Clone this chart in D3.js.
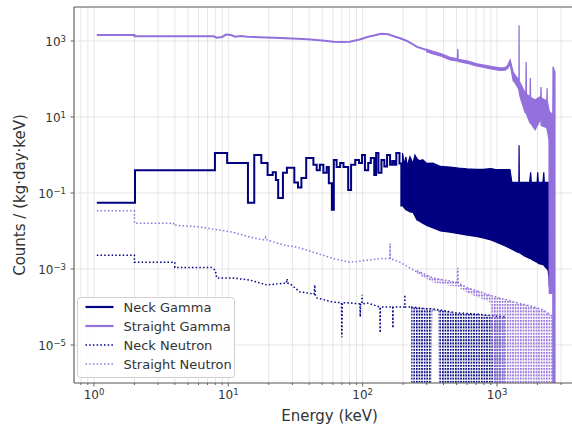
<!DOCTYPE html>
<html>
<head>
<meta charset="utf-8">
<script src="https://cdn.jsdelivr.net/npm/d3@7"></script>
<style>
  html, body { margin: 0; padding: 0; background: #fff; }
  svg { display: block; font-family: "DejaVu Sans", sans-serif; }
</style>
</head>
<body>
<svg id="chart" width="572" height="427"></svg>
<script>
// ---------------- data ----------------
const seriesNames = ["Neck Gamma", "Straight Gamma", "Neck Neutron", "Straight Neutron"];

const xTickValues = [1, 10, 100, 1000];
const xTickExponents = ["0", "1", "2", "3"];
const yTickValues = [1e3, 1e1, 1e-1, 1e-3, 1e-5];
const yTickExponents = ["3", "1", "\u22121", "\u22123", "\u22125"];

// Neck gamma, low-energy histogram: bin lower edges (keV) and rates
const neckGammaE = [1.05, 2.02, 7.95, 9.8, 14.0, 15.6, 17.6, 19.6, 21.4, 22.6,
  23.5, 25.5, 27.3, 31.0, 33.0, 35.0, 38.0, 43.0, 45.5, 48,
  51, 54, 56, 59, 61, 64, 68, 72, 78, 82,
  88, 94, 99, 104, 110, 115, 122, 126, 131, 138,
  145, 152, 160, 166, 172, 178, 188, 194, 198];
const neckGammaV = [0.055, 0.40, 1.13, 0.62, 0.055, 1.0, 0.62, 0.30, 0.35, 0.22,
  0.074, 0.34, 0.46, 0.19, 0.14, 0.25, 0.83, 0.55, 0.40, 0.55,
  0.34, 0.48, 0.18, 0.036, 0.74, 0.48, 0.62, 0.48, 0.12, 0.55,
  0.74, 0.62, 1.0, 0.40, 0.62, 0.83, 0.30, 1.13, 0.34, 0.74,
  0.50, 1.0, 0.55, 0.70, 0.55, 1.13, 0.60, 0.047, 0.047];

// Neck gamma, high-energy region: upper / lower envelope of the bin-to-bin scatter
const neckGammaBandE = [198, 205, 210, 214, 225, 237, 245, 254, 265, 280,
  300, 334, 380, 447, 520, 600, 700, 788, 900, 1000,
  1110, 1250, 1290, 1410, 1455, 1460, 1466, 1600, 1750, 1780,
  1800, 1990, 2010, 2030, 2200, 2230, 2250, 2400, 2440, 2452];
const neckGammaBandHi = [1.13, 0.55, 0.9, 0.5, 0.9, 0.6, 1.0, 0.8, 0.7, 0.75,
  0.6, 0.61, 0.5, 0.48, 0.45, 0.43, 0.42, 0.42, 0.44, 0.41,
  0.41, 0.41, 0.19, 0.19, 0.19, 1.8, 0.19, 0.19, 0.19, 0.35,
  0.19, 0.19, 0.35, 0.19, 0.19, 0.35, 0.19, 0.19, 0.19, 0.19];
const neckGammaBandLo = [0.047, 0.04, 0.036, 0.035, 0.032, 0.031, 0.025, 0.0195, 0.018, 0.016,
  0.014, 0.012, 0.010, 0.0093, 0.0085, 0.0078, 0.0072, 0.0066, 0.0058, 0.005,
  0.0043, 0.0035, 0.0033, 0.0028, 0.0027, 0.0027, 0.0027, 0.0022, 0.0019, 0.0019,
  0.0018, 0.0015, 0.0015, 0.0014, 0.0013, 0.0013, 0.0012, 0.00093, 0.0006, 0.00034];

// Straight gamma, continuum up to 300 keV
const straightGammaE = [1.05, 2.0, 2.0, 7.8, 8.2, 9.0, 9.6, 10.5, 11.2, 12.4,
  13.8, 17, 22, 30, 38.6, 50, 61, 70, 80, 95,
  110, 121, 137, 155, 175, 190, 214, 254, 300];
const straightGammaV = [1440, 1440, 1330, 1330, 1220, 1280, 1480, 1440, 1300, 1350,
  1300, 1260, 1220, 1160, 1110, 1030, 960, 940, 960, 1100,
  1300, 1400, 1550, 1500, 1300, 1180, 1000, 700, 580];

// Straight gamma above 300 keV: upper / lower envelope, lines included
const straightGammaBandE = [300, 334, 385, 447, 500, 508, 511, 514, 600, 700,
  785, 900, 1050, 1150, 1200, 1253, 1320, 1364, 1450, 1457,
  1460, 1463, 1487, 1620, 1640, 1648, 1656, 1763, 1770, 1778,
  1921, 2095, 2117, 2125, 2133, 2280, 2352, 2360, 2368, 2440,
  2450, 2560, 2605, 2614, 2700];
const straightGammaBandHi = [600, 530, 460, 370, 345, 345, 620, 330, 300, 255,
  235, 215, 195, 200, 225, 316, 150, 127, 95, 90,
  2600, 85, 79, 43, 43, 280, 40, 34, 107, 33,
  28, 34, 33, 62, 32, 28, 27, 57, 26, 15,
  14, 12, 10, 210, 150];
const straightGammaBandLo = [520, 460, 400, 320, 300, 300, 300, 290, 260, 222,
  205, 185, 170, 172, 190, 250, 90, 79, 55, 50,
  50, 45, 34, 13, 13, 13, 12, 7, 7, 7,
  4.6, 8.3, 8, 8, 6, 5.5, 5, 5, 4.5, 2.5,
  2.3e-4, 2.3e-4, 2.3e-4, 0, 0];

// Neck neutron, up to 230 keV
const neckNeutronE = [1.05, 2.0, 2.0, 4.0, 4.0, 7.5, 8.0, 8.2, 10.8, 14.5,
  19.4, 25.6, 27.0, 27.4, 27.8, 29, 34, 43.5, 44, 44.5,
  45.5, 60, 69.5, 70, 70.5, 80, 95.5, 96, 96.5, 98.5,
  99, 99.5, 108, 134.5, 135, 135.5, 142, 167.5, 168, 168.5,
  190, 205.5, 206, 206.5, 230];
const neckNeutronV = [0.0023, 0.0023, 0.0015, 0.0015, 0.0011, 0.0011, 0.00093, 0.00058, 0.00058, 0.00051,
  0.00038, 0.00042, 0.00042, 0.00055, 0.00042, 0.0004, 0.00025, 0.00022, 0.00038, 0.00020,
  0.000174, 0.000135, 0.00013, 1.6e-5, 0.00013, 0.000128, 0.00012, 5.5e-5, 0.00012, 0.00012,
  0.00021, 0.00012, 0.000128, 0.0001, 2.1e-5, 0.0001, 0.0001, 0.0001, 2.8e-5, 0.0001,
  0.0001, 0.0001, 0.00021, 0.0001, 0.0001];

// Neck neutron above 230 keV: most bins empty (0)
const neckNeutronBandE = [230, 300, 325, 330, 365, 370, 400, 500, 700, 900, 1140, 1145];
const neckNeutronBandHi = [1e-4, 9e-5, 9e-5, 9e-5, 8.5e-5, 8.5e-5, 8e-5, 7e-5, 6.5e-5, 6e-5, 5.5e-5, 5.5e-5];
const neckNeutronBandLo = [0, 0, 0, 8e-5, 8e-5, 0, 0, 0, 0, 0, 0, 0];

// Straight neutron, up to 254 keV
const straightNeutronE = [1.05, 2.0, 2.0, 3.9, 3.9, 6.1, 10.8, 14.5, 18.6, 19.0,
  19.4, 25.6, 34, 45.5, 60, 80, 108, 142, 159.5, 160,
  160.5, 190, 254];
const straightNeutronV = [0.034, 0.034, 0.016, 0.016, 0.0144, 0.0128, 0.0093, 0.0069, 0.0058, 0.0069,
  0.0058, 0.0043, 0.0036, 0.0026, 0.0019, 0.0015, 0.0017, 0.0019, 0.0019, 0.0047,
  0.0019, 0.0015, 0.00083];

// Straight neutron above 254 keV: scatter envelope, empty bins (0) from ~950 keV
const straightNeutronBandE = [254, 334, 447, 508, 511, 514, 600, 700, 785, 900,
  950, 1000, 1410, 1800, 2200, 2443, 2600, 2614];
const straightNeutronBandHi = [9e-4, 5.8e-4, 4.8e-4, 4.5e-4, 1.07e-3, 4.3e-4, 3.2e-4, 2.7e-4, 2.4e-4, 2.0e-4,
  1.9e-4, 1.8e-4, 1.3e-4, 1.05e-4, 8.5e-5, 6.5e-5, 5.5e-5, 5.5e-5];
const straightNeutronBandLo = [7.5e-4, 4.5e-4, 3.6e-4, 3.5e-4, 3.5e-4, 3.3e-4, 2.4e-4, 1.9e-4, 1.6e-4, 1.3e-4,
  0, 0, 0, 0, 0, 0, 0, 0];

// ---------------- drawing ----------------
const NAVY = "#000080";
const PURPLE = "#9370db";
const svg = d3.select("#chart");
const plotL = 74, plotR = 585, plotT = 7, plotB = 383;

const x = d3.scaleLog().domain([0.71, 4520]).range([plotL, plotR]);
const y = d3.scaleLog().domain([1e-6, 7852]).range([plotB, plotT]);
const yv = v => (v > 0 ? y(v) : plotB + 8);

const defs = svg.append("defs");
defs.append("clipPath").attr("id", "plotClip")
  .append("rect").attr("x", plotL).attr("y", plotT)
  .attr("width", plotR - plotL).attr("height", plotB - plotT);

// dotted vertical drops of many narrow empty bins, seen as a dotted texture
function dotPattern(id, color) {
  const p = defs.append("pattern").attr("id", id)
    .attr("patternUnits", "userSpaceOnUse").attr("width", 2.6).attr("height", 3.2);
  p.append("rect").attr("width", 1.6).attr("height", 2.0).attr("fill", color);
}
dotPattern("dotNavy", NAVY);
dotPattern("dotPurple", PURPLE);

// grid
const grid = svg.append("g");
grid.selectAll("line.vx").data(x.ticks()).join("line")
  .attr("x1", d => x(d)).attr("x2", d => x(d))
  .attr("y1", plotT).attr("y2", plotB)
  .attr("stroke", "#e3e3e3").attr("stroke-width", 0.9);
grid.selectAll("line.hy").data(yTickValues).join("line")
  .attr("x1", plotL).attr("x2", plotR)
  .attr("y1", d => y(d)).attr("y2", d => y(d))
  .attr("stroke", "#e3e3e3").attr("stroke-width", 0.9);

const plot = svg.append("g").attr("clip-path", "url(#plotClip)");

const zip2 = (E, V) => E.map((e, i) => [e, V[i]]);
const zip3 = (E, H, L) => E.map((e, i) => [e, H[i], L[i]]);

const stepLine = d3.line().x(d => x(d[0])).y(d => yv(d[1])).curve(d3.curveStepAfter);
const linLine = d3.line().x(d => x(d[0])).y(d => yv(d[1]));
const band = d3.area().x(d => x(d[0])).y0(d => yv(d[2])).y1(d => yv(d[1]));
const bandTop = d3.line().x(d => x(d[0])).y(d => yv(d[1]));

// Neck Gamma
plot.append("path").datum(zip2(neckGammaE, neckGammaV))
  .attr("d", stepLine).attr("fill", "none").attr("stroke", NAVY).attr("stroke-width", 2);
plot.append("path").datum(zip3(neckGammaBandE, neckGammaBandHi, neckGammaBandLo))
  .attr("d", band).attr("fill", NAVY).attr("stroke", NAVY).attr("stroke-width", 1.2);

// Straight Gamma
plot.append("path").datum(zip2(straightGammaE, straightGammaV))
  .attr("d", linLine).attr("fill", "none").attr("stroke", PURPLE).attr("stroke-width", 2);
plot.append("path").datum(zip3(straightGammaBandE, straightGammaBandHi, straightGammaBandLo))
  .attr("d", band).attr("fill", PURPLE).attr("stroke", PURPLE).attr("stroke-width", 1.3);

// Neck Neutron
plot.append("path").datum(zip2(neckNeutronE, neckNeutronV))
  .attr("d", linLine).attr("fill", "none").attr("stroke", NAVY)
  .attr("stroke-width", 1.5).attr("stroke-dasharray", "1.5,2.2");
const nnBand = zip3(neckNeutronBandE, neckNeutronBandHi, neckNeutronBandLo);
plot.append("path").datum(nnBand).attr("d", band).attr("fill", "url(#dotNavy)");
plot.append("path").datum(nnBand).attr("d", bandTop).attr("fill", "none")
  .attr("stroke", NAVY).attr("stroke-width", 1.5).attr("stroke-dasharray", "1.5,2.2");

// Straight Neutron
plot.append("path").datum(zip2(straightNeutronE, straightNeutronV))
  .attr("d", linLine).attr("fill", "none").attr("stroke", PURPLE)
  .attr("stroke-width", 1.5).attr("stroke-dasharray", "1.5,2.2");
const snBand = zip3(straightNeutronBandE, straightNeutronBandHi, straightNeutronBandLo);
plot.append("path").datum(snBand).attr("d", band).attr("fill", "url(#dotPurple)");
plot.append("path").datum(snBand).attr("d", bandTop).attr("fill", "none")
  .attr("stroke", PURPLE).attr("stroke-width", 1.5).attr("stroke-dasharray", "1.5,2.2");

// spines
const spine = svg.append("g").attr("stroke", "#555").attr("stroke-width", 1.1).attr("fill", "none");
spine.append("line").attr("x1", plotL).attr("x2", plotR).attr("y1", plotT).attr("y2", plotT);
spine.append("line").attr("x1", plotL).attr("x2", plotR).attr("y1", plotB).attr("y2", plotB);
spine.append("line").attr("x1", plotL).attr("x2", plotL).attr("y1", plotT).attr("y2", plotB);

// x ticks
const axisG = svg.append("g").attr("fill", "#333");
axisG.selectAll("line.xt").data(x.ticks()).join("line")
  .attr("x1", d => x(d)).attr("x2", d => x(d))
  .attr("y1", plotB).attr("y2", d => plotB + (xTickValues.includes(d) ? 3.5 : 2))
  .attr("stroke", "#555").attr("stroke-width", 0.9);
xTickValues.forEach((v, i) => {
  const t = axisG.append("text").attr("x", x(v)).attr("y", 399)
    .attr("text-anchor", "middle").attr("font-size", 12);
  t.append("tspan").text("10");
  t.append("tspan").attr("dy", "-0.45em").attr("font-size", 8.5).text(xTickExponents[i]);
});

// y ticks
axisG.selectAll("line.yt").data(yTickValues).join("line")
  .attr("x1", plotL - 3.5).attr("x2", plotL)
  .attr("y1", d => y(d)).attr("y2", d => y(d))
  .attr("stroke", "#555").attr("stroke-width", 0.9);
yTickValues.forEach((v, i) => {
  const t = axisG.append("text").attr("x", 66).attr("y", y(v) + 4.5)
    .attr("text-anchor", "end").attr("font-size", 12);
  t.append("tspan").text("10");
  t.append("tspan").attr("dy", "-0.45em").attr("font-size", 8.5).text(yTickExponents[i]);
});

// axis titles
axisG.append("text").attr("x", (plotL + plotR) / 2).attr("y", 421)
  .attr("text-anchor", "middle").attr("font-size", 15).text("Energy (keV)");
axisG.append("text").attr("transform", "translate(25,195) rotate(-90)")
  .attr("text-anchor", "middle").attr("font-size", 15).text("Counts / (kg\u00b7day\u00b7keV)");

// legend
const leg = svg.append("g").attr("transform", "translate(77.5,297.5)");
leg.append("rect").attr("width", 157).attr("height", 80).attr("rx", 3)
  .attr("fill", "#fff").attr("fill-opacity", 0.85).attr("stroke", "#cfcfcf");
const legendStyles = [
  { color: NAVY, dash: null, w: 2.2 },
  { color: PURPLE, dash: null, w: 2.2 },
  { color: NAVY, dash: "1.5,2.2", w: 1.5 },
  { color: PURPLE, dash: "1.5,2.2", w: 1.5 }
];
seriesNames.forEach((name, i) => {
  const cy = 9.5 + i * 19;
  leg.append("line").attr("x1", 8).attr("x2", 36).attr("y1", cy).attr("y2", cy)
    .attr("stroke", legendStyles[i].color).attr("stroke-width", legendStyles[i].w)
    .attr("stroke-dasharray", legendStyles[i].dash);
  leg.append("text").attr("x", 46).attr("y", cy + 4.5).attr("font-size", 13)
    .attr("fill", "#333").text(name);
});
</script>
</body>
</html>
